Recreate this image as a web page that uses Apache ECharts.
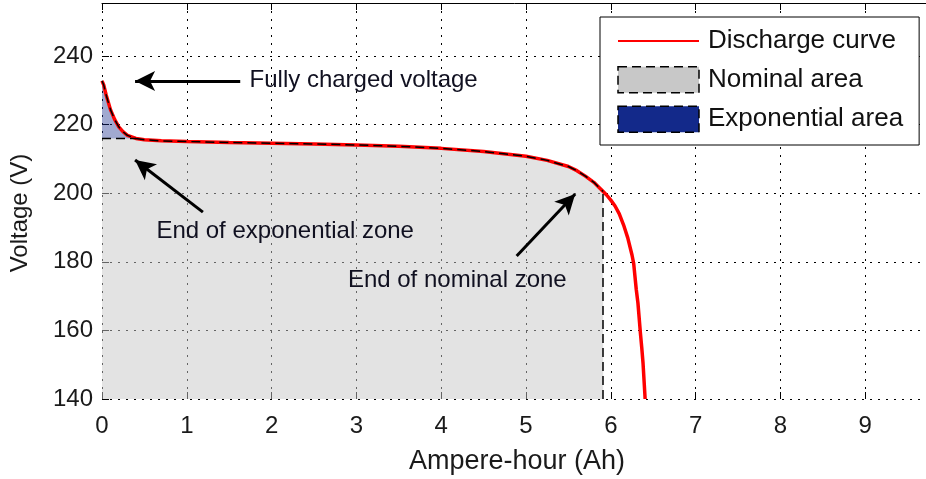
<!DOCTYPE html>
<html>
<head>
<meta charset="utf-8">
<script src="https://cdn.jsdelivr.net/npm/echarts/dist/echarts.min.js"></script>
<style>html,body{margin:0;padding:0;background:#fff}#c{width:926px;height:479px}</style>
</head>
<body>
<div id="c"></div>
<script>
// Discharge curve (Ampere-hour, Voltage)
const curveX = [0, 0.02, 0.05, 0.1, 0.15, 0.2, 0.25, 0.3, 0.4, 0.5, 0.7, 1.0, 1.5, 2.0, 2.5, 3.0, 3.5, 4.0, 4.5, 5.0, 5.25, 5.5, 5.6, 5.7, 5.8, 5.85, 5.91, 5.95, 6.0, 6.05, 6.1, 6.15, 6.2, 6.25, 6.27, 6.3, 6.32, 6.35, 6.365, 6.38, 6.405];
const curveV = [232.8, 231.6, 228.6, 224.4, 221.5, 219.3, 217.9, 216.9, 216.0, 215.6, 215.3, 215.1, 214.8, 214.6, 214.4, 214.1, 213.7, 213.1, 212.2, 210.8, 209.6, 207.8, 206.6, 205.0, 203.2, 202.0, 200.5, 199.5, 198.0, 196.3, 194.0, 190.8, 187.0, 182.0, 179.5, 172.0, 168.0, 159.0, 155.0, 150.5, 140.0];
// zone limits
const nominalEnd = 5.91;   // Ah, end of nominal zone
const expEnd = 0.4;        // Ah, end of exponential zone
const expLevel = 216.0;    // V, voltage at end of exponential zone
// axis ticks
const xTicks = [0, 1, 2, 3, 4, 5, 6, 7, 8, 9];
const yTicks = [140, 160, 180, 200, 220, 240];
// annotations: text, anchor [Ah, V], arrow tail, arrow head
const noteTexts = ['Fully charged voltage', 'End of exponential zone', 'End of nominal zone'];
const notePos = [[1.74, 232.8], [2.16, 189.0], [4.19, 174.7]];
const arrowTail = [[1.63, 232.75], [1.19, 194.5], [4.89, 181.7]];
const arrowHead = [[0.39, 232.75], [0.39, 209.7], [5.58, 199.8]];
const legendNames = ['Discharge curve', 'Nominal area', 'Exponential area'];

const FONT = 'Liberation Sans';
const curve = curveX.map((x, i) => [x, curveV[i]]);
const nominal = curve.filter(p => p[0] <= nominalEnd).map(p => [p[0], Math.min(p[1], expLevel)]);
const nominalEdge = curve.filter(p => p[0] <= nominalEnd);
const expo = curve.filter(p => p[0] <= expEnd);
const nominalTop = curve.find(p => p[0] === nominalEnd)[1];

const dotted = { color: '#000', width: 1, type: [2, 6] };
const tick = { show: true, inside: true, length: 7, lineStyle: { color: '#000', width: 1 } };

const chart = echarts.init(document.getElementById('c'), null, { renderer: 'canvas' });
chart.setOption({
  animation: false,
  backgroundColor: '#fff',
  grid: { left: 102, top: 3, right: -24, bottom: 80, outerBoundsMode: 'none', containLabel: false },
  xAxis: [{
    type: 'value', min: 0, max: 10, interval: 1, position: 'bottom',
    axisLine: { show: false }, axisTick: tick,
    axisLabel: { fontSize: 24, fontFamily: FONT, color: '#1a1a1a', margin: 15, showMaxLabel: false,
      formatter: v => xTicks.includes(v) ? String(v) : '' },
    splitLine: { show: true, lineStyle: dotted },
    name: 'Ampere-hour (Ah)', nameLocation: 'middle', nameGap: 49,
    nameTextStyle: { fontSize: 27, fontFamily: FONT, color: '#1a1a1a', padding: [0, 18, 0, 0] }
  }, {
    type: 'value', min: 0, max: 10, interval: 1, position: 'top',
    axisLine: { show: true, lineStyle: { color: '#000', width: 1 } }, axisTick: tick,
    axisLabel: { show: false }, splitLine: { show: false }
  }],
  yAxis: {
    type: 'value', min: 140, max: 255.5, interval: 20,
    axisLine: { show: false }, axisTick: tick,
    axisLabel: { fontSize: 24, fontFamily: FONT, color: '#1a1a1a', margin: 9, showMaxLabel: false,
      formatter: v => yTicks.includes(v) ? String(v) : '' },
    splitLine: { show: true, lineStyle: dotted },
    name: 'Voltage (V)', nameLocation: 'middle', nameGap: 70,
    nameTextStyle: { fontSize: 24, fontFamily: FONT, color: '#1a1a1a', padding: [0, 24, 0, 0] }
  },
  legend: {
    orient: 'vertical', left: 600, top: 17, itemWidth: 81, itemHeight: 26, itemGap: 12,
    padding: [11, 16, 12, 17], backgroundColor: '#fff', borderColor: '#000', borderWidth: 1,
    selectedMode: false,
    textStyle: { fontSize: 26, fontFamily: FONT, color: '#111', padding: [0, 0, 0, 4] },
    data: [
      { name: legendNames[0], itemStyle: { color: 'rgba(0,0,0,0)', borderWidth: 0, opacity: 0 } },
      { name: legendNames[1], icon: 'rect', itemStyle: { color: '#c8c8c8', borderColor: '#000', borderWidth: 1.5, borderType: [9, 5] } },
      { name: legendNames[2], icon: 'rect', itemStyle: { color: '#13298a', borderColor: '#000', borderWidth: 1.5, borderType: [9, 5] } }
    ]
  },
  series: [
    {
      name: legendNames[1], type: 'line', data: nominal, symbol: 'none', z: 2,
      lineStyle: { width: 0, opacity: 0 }, itemStyle: { color: '#c8c8c8' },
      areaStyle: { color: '#c8c8c8', opacity: 0.5, origin: 'start' },
      markLine: {
        silent: true, symbol: ['none', 'none'], label: { show: false },
        lineStyle: { color: '#000', width: 1.5, type: [9, 5] },
        data: [[{ coord: [nominalEnd, 140] }, { coord: [nominalEnd, nominalTop] }]]
      }
    },
    {
      name: legendNames[2], type: 'line', data: expo, symbol: 'none', z: 2,
      lineStyle: { width: 0, opacity: 0 }, itemStyle: { color: '#13298a' },
      areaStyle: { color: '#13298a', opacity: 0.4, origin: expLevel }
    },
    {
      name: legendNames[0], type: 'line', data: curve, symbol: 'none', z: 3,
      lineStyle: { color: '#ff0000', width: 3.5 }, itemStyle: { color: '#ff0000' }
    },
    {
      name: 'edge', type: 'line', data: nominalEdge, symbol: 'none', z: 4, silent: true,
      lineStyle: { color: '#000', width: 1.5, type: [9, 5] }
    },
    {
      name: 'edge2', type: 'line', data: [[0, expLevel], [expEnd, expLevel]], symbol: 'none', z: 4, silent: true,
      lineStyle: { color: '#000', width: 1.5, type: [9, 5] }
    },
    {
      name: 'notes', type: 'scatter', symbolSize: 1, z: 5, silent: true,
      itemStyle: { color: 'rgba(0,0,0,0)', opacity: 1 },
      data: noteTexts.map((t, i) => ({
        value: notePos[i], name: t,
        label: { show: true, position: 'inside', formatter: t, align: i === 0 ? 'left' : 'center',
          verticalAlign: 'middle', fontSize: 24, fontFamily: FONT, color: '#101020',
          textBorderWidth: 0, opacity: 1 }
      })),
      markLine: {
        silent: true, symbol: ['none', 'arrow'], symbolSize: [15, 20], label: { show: false },
        lineStyle: { color: '#000', width: 3, type: 'solid', opacity: 1 },
        data: arrowTail.map((t, i) => [{ coord: t }, { coord: arrowHead[i] }])
      }
    }
  ]
});
</script>
</body>
</html>
